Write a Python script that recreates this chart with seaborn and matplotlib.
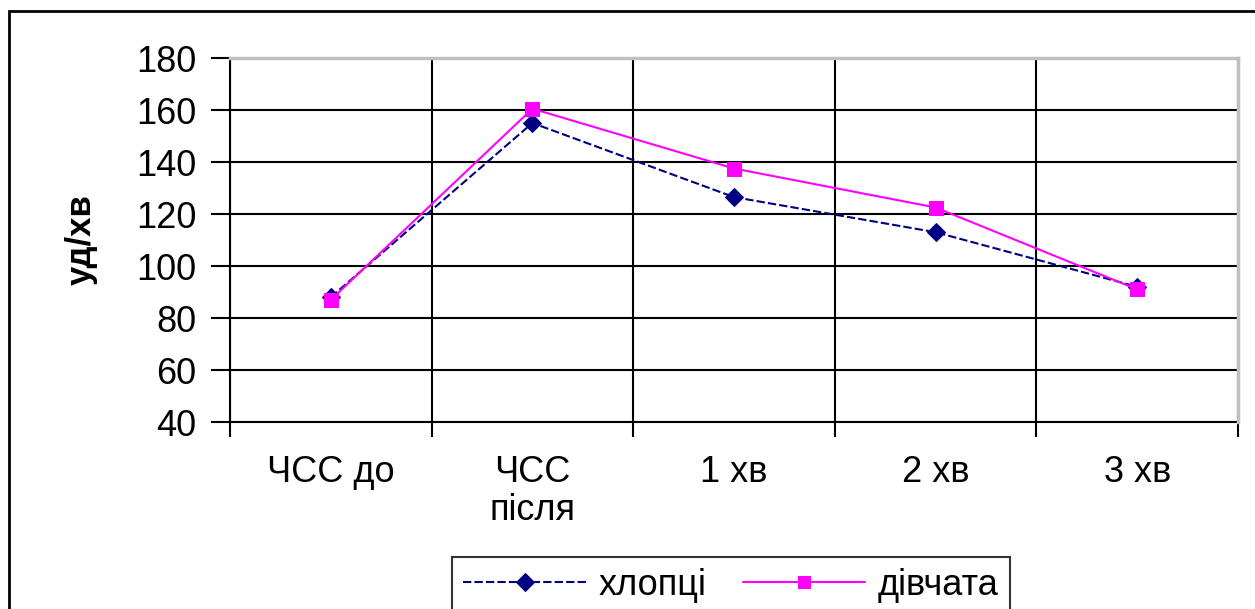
import numpy as np
import pandas as pd
import matplotlib
matplotlib.use('Agg')
import matplotlib.pyplot as plt
import seaborn as sns
from matplotlib.patches import Rectangle

# Data
categories = ['ЧСС до', 'ЧСС\nпісля', '1 хв', '2 хв', '3 хв']
boys = [88, 155, 126.5, 113, 92]
girls = [87, 160.5, 137.5, 122.5, 91]
y_ticks = [40, 60, 80, 100, 120, 140, 160, 180]

sns.set_theme(style='white')
plt.rcParams['font.family'] = ['Liberation Sans', 'DejaVu Sans']
plt.rcParams['text.color'] = 'black'
plt.rcParams['xtick.color'] = 'black'
plt.rcParams['ytick.color'] = 'black'
plt.rcParams['axes.labelcolor'] = 'black'

W, H = 1255, 609
fig = plt.figure(figsize=(W / 100, H / 100), dpi=100)
ax = fig.add_axes([230 / W, 1 - 422 / H, (1238 - 230) / W, (422 - 58) / H])

x = np.arange(len(categories))
df_boys = pd.DataFrame({'x': x, 'y': boys})
df_girls = pd.DataFrame({'x': x, 'y': girls})

sns.lineplot(data=df_boys, x='x', y='y', ax=ax, color='#000080', marker='D',
             markersize=9, linewidth=1.5, linestyle=(0, (4, 1.5)),
             markeredgecolor='#000080', label='хлопці', sort=False, zorder=3)
sns.lineplot(data=df_girls, x='x', y='y', ax=ax, color='#FF00FF', marker='s',
             markersize=10, linewidth=1.5, markeredgecolor='#FF00FF',
             label='дівчата', sort=False, zorder=4)

ax.set_xlim(-0.5, len(categories) - 0.5)
ax.set_ylim(40, 180)
ax.set_yticks(y_ticks)
ax.set_xticks(x)
ax.set_xticklabels(categories, fontsize=26, linespacing=1.1)
ax.set_xticks(np.arange(len(categories) + 1) - 0.5, minor=True)
ax.tick_params(axis='x', which='major', length=0, pad=24)
ax.tick_params(axis='x', which='minor', length=11, width=1.5, direction='out',
               color='black', bottom=True)
ax.tick_params(axis='y', which='major', length=14, width=1.5, direction='out',
               color='black', labelsize=26, pad=10, left=True)
ax.set_xlabel('')
ax.set_ylabel('уд/хв', fontsize=25, fontweight='bold', labelpad=28)

ax.grid(False)
ax.yaxis.grid(True, color='black', linewidth=1.5)
ax.xaxis.grid(True, which='minor', color='black', linewidth=1.5)
ax.set_axisbelow(True)

for side in ['left', 'bottom']:
    ax.spines[side].set_color('black')
    ax.spines[side].set_linewidth(1.5)
for side in ['top', 'right']:
    ax.spines[side].set_color('#C0C0C0')
    ax.spines[side].set_linewidth(2.5)
    ax.spines[side].set_zorder(2.6)

leg = ax.legend(loc='upper center', bbox_to_anchor=(731 / W, 1 - 557 / H),
                bbox_transform=fig.transFigure, ncol=2, fontsize=26,
                frameon=True, fancybox=False, edgecolor='black',
                handlelength=3.4, handletextpad=0.35, columnspacing=1.0,
                borderpad=0.3, borderaxespad=0)
leg.get_frame().set_linewidth(1.5)
for h in leg.get_lines():
    h.set_markersize(9)

# outer chart frame (left and top edges visible)
fig.patches.append(Rectangle((9 / W, -0.2), 1.2, 1.2 - 11 / H,
                             transform=fig.transFigure, fill=False,
                             edgecolor='black', linewidth=2))

fig.savefig('out.png', dpi=100)
